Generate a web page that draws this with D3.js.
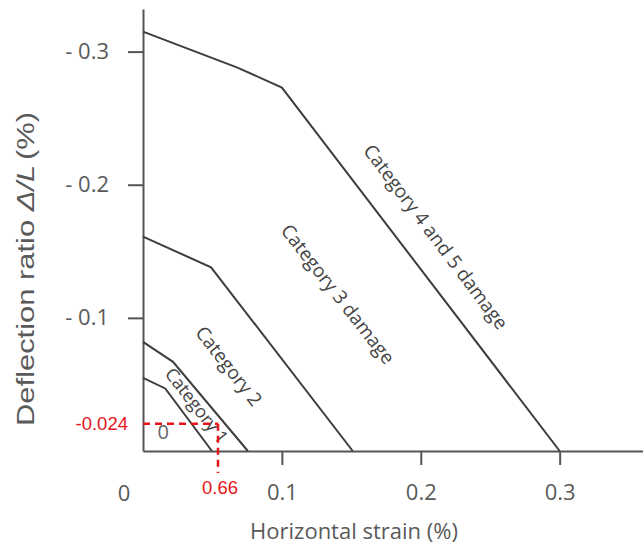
<!DOCTYPE html>
<html>
<head>
<meta charset="utf-8">
<script src="https://cdn.jsdelivr.net/npm/d3@7"></script>
<style>
  html, body { margin: 0; padding: 0; background: #fff; }
  svg { display: block; }
</style>
</head>
<body>
<svg id="chart" width="643" height="549"></svg>
<script>
// ---- Data ----
const xTickValues = [0.1, 0.2, 0.3];
const xTickLabels = ["0.1", "0.2", "0.3"];
const yTickValues = [-0.1, -0.2, -0.3];
const yTickLabels = ["- 0.1", "- 0.2", "- 0.3"];

// Boundary lines [horizontal strain, deflection ratio]
const boundaryCat1 = [[0, -0.055], [0.016, -0.047], [0.0496, 0]];
const boundaryCat2 = [[0, -0.082], [0.0216, -0.067], [0.0755, 0]];
const boundaryCat3 = [[0, -0.161], [0.049, -0.138], [0.151, 0]];
const boundaryCat45 = [[0, -0.315], [0.068, -0.288], [0.1, -0.273], [0.3, 0]];

const regionLabels = ["0", "Category 1", "Category 2", "Category 3 damage", "Category 4 and 5 damage"];
const regionLabelX = [0.0145, 0.039, 0.062, 0.1405, 0.211];
const regionLabelY = [-0.0145, -0.0345, -0.064, -0.118, -0.161];

// Example point (red dashed guide)
const markerPoint = [0.054, -0.0205];
const markerLabels = ["0.66", "-0.024"];

// ---- Scales ----
const svg = d3.select("#chart");
const x = d3.scaleLinear().domain([0, 0.36]).range([143, 643]);
const y = d3.scaleLinear().domain([0, -0.332]).range([451, 9]);

const axisColor = "#555";
const textColor = "#5a5a5a";

// Axes
const xAxis = d3.axisBottom(x).tickValues(xTickValues)
  .tickFormat((d, i) => xTickLabels[i]).tickSize(14).tickSizeOuter(0).tickPadding(19);
const gx = svg.append("g").attr("transform", `translate(0,${y(0)})`).call(xAxis);
gx.select(".domain").attr("stroke", axisColor).attr("stroke-width", 2);
gx.selectAll(".tick line").attr("stroke", axisColor).attr("stroke-width", 2);
gx.selectAll(".tick text").attr("fill", textColor)
  .style("font-family", "'Open Sans', sans-serif").style("font-size", "22px");

// "0" label at origin (offset left of axis)
svg.append("text").attr("x", x(0) - 19).attr("y", y(0) + 50)
  .attr("text-anchor", "middle").attr("fill", textColor)
  .style("font-family", "'Open Sans', sans-serif").style("font-size", "22px").text("0");

const yAxis = d3.axisLeft(y).tickValues(yTickValues)
  .tickFormat((d, i) => yTickLabels[i]).tickSize(15).tickSizeOuter(0).tickPadding(19);
const gy = svg.append("g").attr("transform", `translate(${x(0)},0)`).call(yAxis);
gy.select(".domain").attr("stroke", axisColor).attr("stroke-width", 2);
gy.selectAll(".tick line").attr("stroke", axisColor).attr("stroke-width", 2);
gy.selectAll(".tick text").attr("fill", textColor)
  .style("font-family", "'Open Sans', sans-serif").style("font-size", "22px");

// Axis titles
svg.append("text").attr("x", 354).attr("y", 539).attr("text-anchor", "middle")
  .attr("fill", textColor).style("font-family", "'Open Sans', sans-serif").style("font-size", "22px")
  .text("Horizontal strain (%)");

const yt = svg.append("text")
  .attr("text-anchor", "middle").attr("fill", textColor)
  .style("font-family", "'Liberation Sans', Arial, sans-serif").style("font-size", "24px");
yt.append("tspan").text("Deflection ratio ");
yt.append("tspan").style("font-style", "italic").text("Δ/L");
yt.append("tspan").attr("dx", -3).text(" (%)");
const natural = yt.node().getComputedTextLength();
yt.attr("transform", `translate(34,269) rotate(-90) scale(${318 / natural},1)`);

// Boundary lines
const line = d3.line().x(d => x(d[0])).y(d => y(d[1]));
[boundaryCat1, boundaryCat2, boundaryCat3, boundaryCat45].forEach(b => {
  svg.append("path").attr("d", line(b)).attr("fill", "none")
    .attr("stroke", "#3d3d3d").attr("stroke-width", 2);
});

// Region labels
const angles = [0, 52, 52, 52, 53];
const sizes = [20, 18, 19, 19, 19];
regionLabels.forEach((t, i) => {
  svg.append("text")
    .attr("transform", `translate(${x(regionLabelX[i])},${y(regionLabelY[i])}) rotate(${angles[i]})`)
    .attr("text-anchor", "middle").attr("dominant-baseline", "central")
    .attr("fill", i === 0 ? "#666" : "#444")
    .style("font-family", "'Open Sans', sans-serif").style("font-size", sizes[i] + "px")
    .text(t);
});

// Red dashed guide lines
const red = "#e8141b";
svg.append("line").attr("x1", x(0)).attr("x2", x(markerPoint[0]))
  .attr("y1", y(markerPoint[1])).attr("y2", y(markerPoint[1]))
  .attr("stroke", red).attr("stroke-width", 2.5).attr("stroke-dasharray", "7,5");
svg.append("line").attr("x1", x(markerPoint[0])).attr("x2", x(markerPoint[0]))
  .attr("y1", y(markerPoint[1])).attr("y2", y(0) + 22)
  .attr("stroke", red).attr("stroke-width", 2.5).attr("stroke-dasharray", "7,5");
svg.append("text").attr("x", x(markerPoint[0]) + 2).attr("y", y(0) + 43)
  .attr("text-anchor", "middle").attr("fill", red)
  .style("font-family", "'Liberation Sans', Arial, sans-serif").style("font-size", "18.5px")
  .text(markerLabels[0]);
svg.append("text").attr("x", x(0) - 15).attr("y", y(markerPoint[1]))
  .attr("text-anchor", "end").attr("dominant-baseline", "central").attr("fill", red)
  .style("font-family", "'Liberation Sans', Arial, sans-serif").style("font-size", "18.5px")
  .text(markerLabels[1]);
</script>
</body>
</html>
